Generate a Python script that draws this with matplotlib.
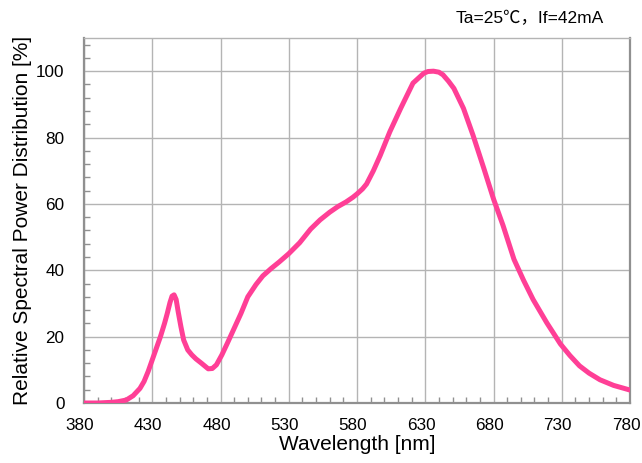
import matplotlib
matplotlib.use("Agg")
import matplotlib.pyplot as plt
from matplotlib.ticker import MultipleLocator
from matplotlib.transforms import ScaledTranslation

wavelength = [380, 390, 400, 405, 411, 416, 421, 424, 427, 430, 433, 436, 439, 441, 443, 444.5, 446, 447.5, 449,
              451, 453, 456, 459, 462, 466, 471, 474, 477, 481, 485, 490, 495, 500, 506, 511, 517, 523, 530,
              538, 546, 553, 560, 566, 572, 577, 580, 584, 587, 592, 597, 604, 612, 621, 629, 632, 636, 640,
              643, 647, 651, 658, 665, 673, 680, 687, 695, 702, 709, 719, 729, 736, 743, 750, 758, 768, 780]
rel_power = [0, 0, 0.2, 0.4, 0.9, 2.2, 4.4, 6.5, 9.5, 13, 16.5, 20, 24, 27, 30.3, 32.2, 32.6, 31.2, 27.5,
             23, 19, 16, 14.5, 13.3, 12, 10.3, 10.4, 11.5, 14.5, 18, 22.5, 27, 32, 35.7, 38.3, 40.5, 42.5, 45,
             48.3, 52.4, 55.2, 57.5, 59.2, 60.6, 62, 63, 64.5, 66, 70, 74.6, 81.7, 88.8, 96.4, 99.4, 99.9, 100, 99.7,
             98.9, 97, 94.8, 88.8, 80.7, 70.6, 61.5, 53.5, 43.3, 37, 31.2, 24.2, 17.8, 14.3, 11.2, 9, 7, 5.3, 3.9]

x_ticks = [380, 430, 480, 530, 580, 630, 680, 730, 780]
y_ticks = [0, 20, 40, 60, 80, 100]

plt.rcParams['font.family'] = ['Liberation Sans', 'Noto Sans CJK JP', 'DejaVu Sans']

fig = plt.figure(figsize=(6.42, 4.63), dpi=100)
ax = fig.add_axes([84/642, 60/463, 546/642, 365/463])

ax.plot(wavelength, rel_power, color='#FF3F96', lw=3.6, solid_capstyle='round', solid_joinstyle='round', zorder=3)

ax.set_xlim(380, 780)
ax.set_ylim(0, 110)
ax.set_xticks(x_ticks)
ax.set_yticks(y_ticks)
ax.xaxis.set_minor_locator(MultipleLocator(10))
ax.yaxis.set_minor_locator(MultipleLocator(4))
ax.grid(True, which='major', color='#b4b4b4', lw=1.0, zorder=0)
ax.tick_params(which='both', direction='in', color='#909090', labelsize=12.3)
ax.tick_params(axis='x', which='major', length=0, pad=11)
ax.tick_params(axis='y', which='major', length=0, pad=14)
ax.tick_params(which='minor', length=4, width=1)
for s in ax.spines.values():
    s.set_color('#909090')
    s.set_linewidth(1.6)
ax.spines['top'].set_color('#b4b4b4')
ax.spines['top'].set_linewidth(1.0)

shift = ScaledTranslation(-4/100, 0, fig.dpi_scale_trans)
for lab in ax.get_xticklabels():
    lab.set_transform(lab.get_transform() + shift)

ax.set_xlabel('Wavelength [nm]', fontsize=15, labelpad=1)
ax.set_ylabel('Relative Spectral Power Distribution [%]', fontsize=15, labelpad=3)
fig.text(604/642, 1 - 19/463, 'Ta=25\u2103\uff0cIf=42mA', fontsize=12.5, ha='right', va='center')

fig.savefig('out.png', dpi=100)
